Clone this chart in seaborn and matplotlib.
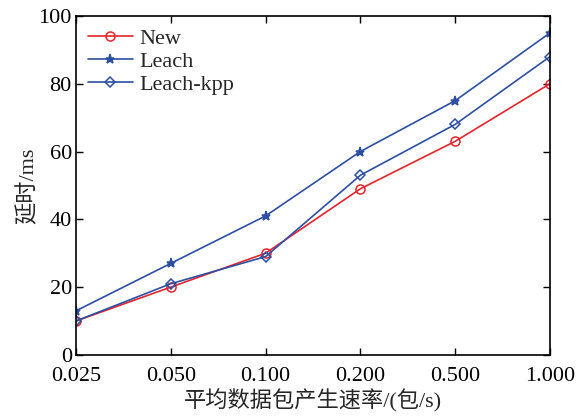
import matplotlib
matplotlib.use("Agg")
import matplotlib.pyplot as plt
import seaborn as sns
import pandas as pd

rates = ["0.025", "0.050", "0.100", "0.200", "0.500", "1.000"]
new_delay = [10, 20, 30, 49, 63, 80]
leach_delay = [13, 27, 41, 60, 75, 95]
kpp_delay = [10, 21, 29, 53, 68, 88]
y_ticks = [0, 20, 40, 60, 80, 100]

sns.set_theme(style="ticks")
plt.rcParams["font.family"] = ["Liberation Serif", "Noto Sans CJK SC"]
plt.rcParams["font.size"] = 16

idx = list(range(len(rates)))
df = pd.DataFrame({
    "rate": idx * 3,
    "delay": new_delay + leach_delay + kpp_delay,
    "method": ["New"] * 6 + ["Leach"] * 6 + ["Leach-kpp"] * 6,
})

red = "#e3242b"
blue = "#2d4fa1"
palette = {"New": red, "Leach": blue, "Leach-kpp": blue}
markers = {"New": "o", "Leach": "*", "Leach-kpp": "D"}
sizes = {"New": 6.5, "Leach": 6.5, "Leach-kpp": 5}

fig = plt.figure(figsize=(5.82, 4.19), dpi=100)
ax = fig.add_axes([0.1306, 0.153, 0.8144, 0.809])

for name in ["New", "Leach", "Leach-kpp"]:
    sub = df[df["method"] == name]
    mk = markers[name]
    sns.lineplot(
        data=sub, x="rate", y="delay", ax=ax, color=palette[name],
        marker=mk, markersize=sizes[name],
        markerfacecolor="none" if mk != "*" else palette[name],
        markeredgecolor=palette[name], markeredgewidth=1.1,
        linewidth=1.2, label=name, errorbar=None,
    )

ax.set_xlim(0, len(rates) - 1)
ax.set_ylim(0, 100)
ax.set_xticks(idx)
ax.set_xticklabels(rates)
ax.set_yticks(y_ticks)
ax.tick_params(direction="in", top=True, right=True, length=5, width=1,
               labelsize=16, colors="black")
ax.tick_params(axis="x", pad=9)
ax.tick_params(axis="y", pad=3)
for s in ax.spines.values():
    s.set_linewidth(1.2)
    s.set_color("black")

ax.set_xlabel("平均数据包产生速率/(包/s)", fontsize=16, labelpad=2)
ax.set_ylabel("延时/ms", fontsize=16, labelpad=0)

leg = ax.legend(loc="upper left", frameon=False, fontsize=16,
                handlelength=2.0, handletextpad=0.3, labelspacing=0.12,
                borderaxespad=0.25, borderpad=0.3)

fig.savefig("out.png", dpi=100)
